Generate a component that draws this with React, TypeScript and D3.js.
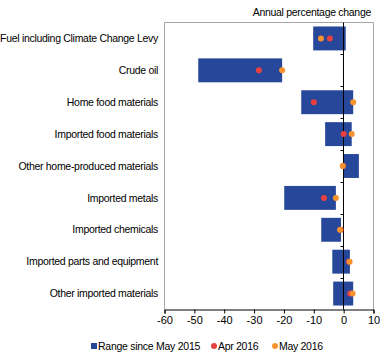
import React, { useRef, useEffect } from 'react';
import * as d3 from 'd3';

const categories = [
  'Fuel including Climate Change Levy',
  'Crude oil',
  'Home food materials',
  'Imported food materials',
  'Other home-produced materials',
  'Imported metals',
  'Imported chemicals',
  'Imported parts and equipment',
  'Other imported materials',
];
const rangeLow = [-10.2, -48.7, -14.2, -6.2, 0, -19.9, -7.5, -3.8, -3.5];
const rangeHigh = [0.7, -20.6, 3.2, 2.7, 5.1, -2.6, -0.9, 2.1, 3.2];
const apr2016 = [-4.6, -28.4, -10.0, 0.0, -0.2, -6.6, -1.0, 1.8, 2.2];
const may2016 = [-7.6, -20.6, 3.2, 2.7, -0.3, -2.6, -1.2, 2.0, 3.0];
const xTicks = [-60, -50, -40, -30, -20, -10, 0, 10];

const width = 389;
const height = 364;
const BLUE = '#27479A';
const RED = '#E8403F';
const ORANGE = '#F7932E';
const FONT = '"Liberation Sans", Arial, sans-serif';

export default function App() {
  const ref = useRef<SVGSVGElement>(null);

  useEffect(() => {
    const svg = d3.select(ref.current);
    svg.selectAll('*').remove();

    const left = 164.5, right = 373.5, top = 22.5, bottom = 309.5;
    const x = d3.scaleLinear().domain([-60, 10]).range([left, right]);
    const y = d3.scaleBand().domain(categories).range([top, bottom]).paddingInner(0.25).paddingOuter(0.125);
    const band = d3.scaleBand().domain(categories).range([top, bottom]);

    // frame
    svg.append('path')
      .attr('d', `M${left},${bottom}V${top}H${right}V${bottom}`)
      .attr('fill', 'none')
      .attr('stroke', '#A6A6A6')
      .attr('stroke-width', 1);

    // bars
    svg.selectAll('rect.range')
      .data(categories)
      .enter()
      .append('rect')
      .attr('x', (d, i) => x(rangeLow[i]))
      .attr('width', (d, i) => x(rangeHigh[i]) - x(rangeLow[i]))
      .attr('y', d => y(d)!)
      .attr('height', y.bandwidth())
      .attr('fill', BLUE);

    // zero line with ticks
    const x0 = Math.round(x(0)) - 0.5;
    svg.append('line')
      .attr('x1', x0).attr('x2', x0).attr('y1', top).attr('y2', bottom)
      .attr('stroke', '#000').attr('stroke-width', 1);
    const bounds = categories.map(c => band(c)!).slice(1);
    svg.selectAll('line.ytick')
      .data(bounds)
      .enter()
      .append('line')
      .attr('x1', x0 - 3).attr('x2', x0)
      .attr('y1', d => Math.round(d) + 0.5).attr('y2', d => Math.round(d) + 0.5)
      .attr('stroke', '#000');

    // points
    const cy = (d: string) => y(d)! + y.bandwidth() / 2;
    svg.selectAll('circle.apr')
      .data(categories)
      .enter()
      .append('circle')
      .attr('cx', (d, i) => x(apr2016[i]))
      .attr('cy', cy)
      .attr('r', 3)
      .attr('fill', RED);
    svg.selectAll('circle.may')
      .data(categories)
      .enter()
      .append('circle')
      .attr('cx', (d, i) => x(may2016[i]))
      .attr('cy', cy)
      .attr('r', 3)
      .attr('fill', ORANGE);

    // x axis
    const xAxis = svg.append('g')
      .attr('transform', `translate(0,${bottom})`)
      .call(d3.axisBottom(x).tickValues(xTicks).tickSize(4).tickPadding(3).tickFormat(d => String(d)));
    xAxis.select('.domain').attr('stroke', '#000');
    xAxis.selectAll('text').attr('font-family', FONT).attr('font-size', 11).attr('fill', '#000');

    // category labels
    svg.selectAll('text.cat')
      .data(categories)
      .enter()
      .append('text')
      .text(d => d)
      .attr('x', 158)
      .attr('y', cy)
      .attr('dy', '0.35em')
      .attr('text-anchor', 'end')
      .attr('font-family', FONT)
      .attr('font-size', 10.5)
      .attr('letter-spacing', -0.3);

    // title
    svg.append('text')
      .text('Annual percentage change')
      .attr('x', 371)
      .attr('y', 16)
      .attr('text-anchor', 'end')
      .attr('font-family', FONT)
      .attr('font-size', 10.5)
      .attr('letter-spacing', -0.3);

    // legend
    const ly = 346;
    const lg = svg.append('g').attr('font-family', FONT).attr('font-size', 10.5).attr('letter-spacing', -0.3);
    lg.append('rect').attr('x', 91).attr('y', ly - 3).attr('width', 6).attr('height', 6).attr('fill', BLUE);
    lg.append('text').text('Range since May 2015').attr('x', 98).attr('y', ly).attr('dy', '0.35em')
      .attr('textLength', 102).attr('lengthAdjust', 'spacing');
    lg.append('circle').attr('cx', 214).attr('cy', ly).attr('r', 3).attr('fill', RED);
    lg.append('text').text('Apr 2016').attr('x', 218).attr('y', ly).attr('dy', '0.35em');
    lg.append('circle').attr('cx', 275).attr('cy', ly).attr('r', 3).attr('fill', ORANGE);
    lg.append('text').text('May 2016').attr('x', 279).attr('y', ly).attr('dy', '0.35em');
  }, []);

  return (
    <svg ref={ref} width={width} height={height} style={{ position: 'absolute', left: 0, top: 0 }}></svg>
  );
}
